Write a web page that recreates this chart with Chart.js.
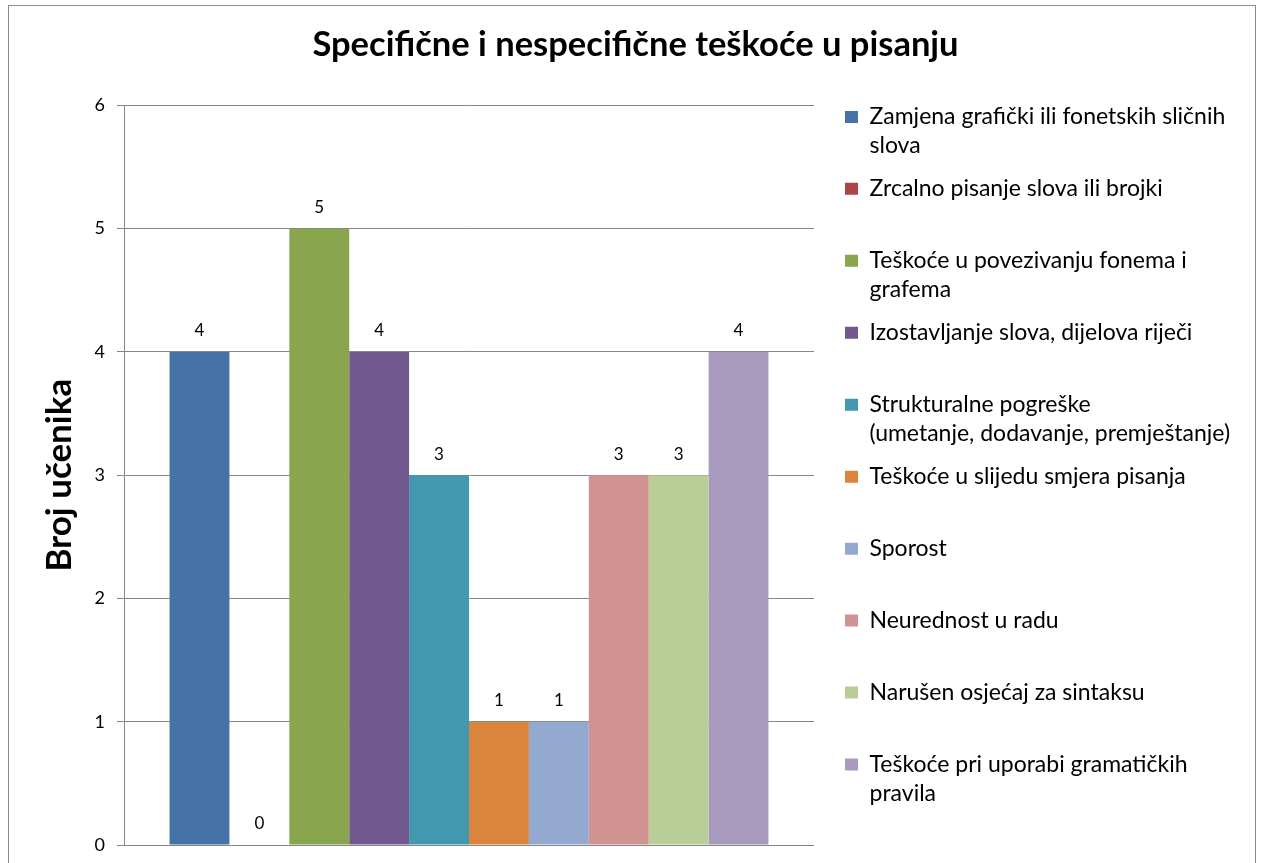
<!DOCTYPE html>
<html>
<head>
<meta charset="utf-8">
<script src="https://cdn.jsdelivr.net/npm/chart.js@4.4.1/dist/chart.umd.min.js"></script>
<style>
  html, body { margin: 0; padding: 0; background: #fff; overflow: hidden; }
  #okvir {
    position: absolute; left: 8px; top: 5px;
    width: 1248px; height: 880px;
    border: 1px solid #8c8c8c; box-sizing: border-box;
  }
  #okvir canvas { display: block; }
</style>
</head>
<body>
<div id="okvir"><canvas id="grafikon"></canvas></div>
<script>
// podaci
const naslov = 'Specifične i nespecifične teškoće u pisanju';
const osY = 'Broj učenika';
const kategorije = [''];
const oznake = [
  ['Zamjena grafički ili fonetskih sličnih', 'slova'],
  ['Zrcalno pisanje slova ili brojki', ''],
  ['Teškoće u povezivanju fonema i', 'grafema'],
  ['Izostavljanje slova, dijelova riječi', ''],
  ['Strukturalne pogreške', '(umetanje, dodavanje, premještanje)'],
  ['Teškoće u slijedu smjera pisanja', ''],
  ['Sporost', ''],
  ['Neurednost u radu', ''],
  ['Narušen osjećaj za sintaksu', ''],
  ['Teškoće pri uporabi gramatičkih', 'pravila']
];
const vrijednosti = [4, 0, 5, 4, 3, 1, 1, 3, 3, 4];
const boje = ['#4572A7', '#AA4643', '#89A54E', '#71588F', '#4198AF',
              '#DB843D', '#93A9CF', '#D19392', '#B9CD96', '#A99BBD'];

Chart.defaults.font.family = 'Lato';
Chart.defaults.color = '#000';

// vrijednosti iznad stupaca
const brojevi = {
  id: 'brojevi',
  afterDatasetsDraw(chart) {
    const ctx = chart.ctx;
    ctx.save();
    ctx.font = '17px Lato';
    ctx.fillStyle = '#000';
    ctx.textAlign = 'center';
    ctx.textBaseline = 'middle';
    chart.data.datasets.forEach((ds, i) => {
      const meta = chart.getDatasetMeta(i);
      meta.data.forEach((el, j) => {
        ctx.fillText(ds.data[j], el.x, el.y - 21);
      });
    });
    ctx.restore();
  }
};

// legenda malo pomaknuta kao u Excelu
const pomakLegende = {
  id: 'pomakLegende',
  afterLayout(chart) {
    const l = chart.legend;
    l.left += 17; l.right += 17;
    l.top -= 14; l.bottom -= 14;
  }
};

const datasets = oznake.map((o, i) => ({
  label: o,
  data: [vrijednosti[i]],
  backgroundColor: boje[i],
  borderWidth: 0,
  barPercentage: 1,
  categoryPercentage: 0.868
}));

new Chart(document.getElementById('grafikon'), {
  type: 'bar',
  data: { labels: kategorije, datasets: datasets },
  options: {
    responsive: true,
    maintainAspectRatio: false,
    animation: false,
    layout: { padding: { left: 48, right: 41, top: 0, bottom: 39 } },
    plugins: {
      title: {
        display: true,
        text: naslov,
        font: { size: 34.5, weight: 'bold' },
        padding: { top: 18, bottom: 40 }
      },
      legend: {
        position: 'right',
        align: 'start',
        fullSize: false,
        maxWidth: 400,
        labels: {
          boxWidth: 13,
          boxHeight: 12,
          padding: 14,
          font: { size: 23, lineHeight: 1.26 }
        }
      },
      tooltip: { enabled: false }
    },
    scales: {
      x: { display: false },
      y: {
        min: 0,
        max: 6,
        ticks: { stepSize: 1, padding: 12, font: { size: 18 } },
        grid: { color: '#868686', tickLength: 7 },
        border: { color: '#868686' },
        title: {
          display: true,
          text: osY,
          font: { size: 35, weight: 'bold' },
          padding: { top: -18, bottom: 0 }
        },
        afterFit(s) { s.width = 67; }
      }
    }
  },
  plugins: [brojevi, pomakLegende]
});
</script>
</body>
</html>
